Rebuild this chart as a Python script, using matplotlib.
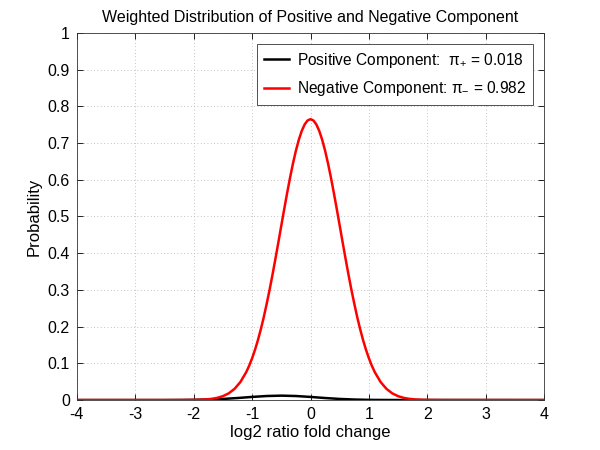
import matplotlib
matplotlib.use("Agg")
import matplotlib.pyplot as plt

plt.rcParams['font.family'] = ['Liberation Sans', 'DejaVu Sans']
plt.rcParams['mathtext.fontset'] = 'custom'
plt.rcParams['mathtext.rm'] = 'Liberation Sans'
plt.rcParams['mathtext.it'] = 'Liberation Sans'
plt.rcParams['axes.unicode_minus'] = False

# Negative component (red)
neg_x = [-4.0, -2.5, -2.2, -2.0, -1.9, -1.8, -1.7, -1.6, -1.5, -1.4, -1.3, -1.2,
         -1.1, -1.05, -1.0, -0.95, -0.9, -0.85, -0.8, -0.75, -0.7, -0.65, -0.6, -0.55,
         -0.5, -0.45, -0.4, -0.35, -0.3, -0.25, -0.2, -0.15, -0.1, -0.05, 0.0,
         0.05, 0.1, 0.15, 0.2, 0.25, 0.3, 0.35, 0.4, 0.45, 0.5,
         0.55, 0.6, 0.65, 0.7, 0.75, 0.8, 0.85, 0.9, 0.95, 1.0, 1.05, 1.1,
         1.2, 1.3, 1.4, 1.5, 1.6, 1.7, 1.8, 1.9, 2.0, 2.2, 2.5, 4.0]
neg_y = [0.0, 0.0, 0.0001, 0.0004, 0.0008, 0.0016, 0.0031, 0.0058, 0.0105, 0.0182, 0.0305, 0.0491,
         0.0761, 0.0934, 0.1136, 0.1368, 0.1632, 0.1929, 0.2257, 0.262, 0.3005, 0.3417, 0.3850, 0.4296,
         0.475, 0.5199, 0.5638, 0.6056, 0.6443, 0.679, 0.7088, 0.7329, 0.7506, 0.7614, 0.765,
         0.7614, 0.7506, 0.7329, 0.7088, 0.679, 0.6443, 0.6056, 0.5638, 0.5199, 0.475,
         0.4296, 0.3850, 0.3417, 0.3005, 0.262, 0.2257, 0.1929, 0.1632, 0.1368, 0.1136, 0.0934, 0.0761,
         0.0491, 0.0305, 0.0182, 0.0105, 0.0058, 0.0031, 0.0016, 0.0008, 0.0004, 0.0001, 0.0, 0.0]

# Positive component (black)
pos_x = [-4.0, -2.5, -2.25, -2.0, -1.75, -1.5, -1.25, -1.0, -0.75, -0.5, -0.25,
         0.0, 0.25, 0.5, 0.75, 1.0, 1.25, 1.5, 4.0]
pos_y = [0.0, 0.0, 0.0002, 0.0005, 0.0014, 0.0030, 0.0055, 0.0085, 0.0110, 0.0120, 0.0110,
         0.0085, 0.0055, 0.0030, 0.0014, 0.0005, 0.0002, 0.0001, 0.0]

pi_pos = 0.018
pi_neg = 0.982

x_ticks = [-4, -3, -2, -1, 0, 1, 2, 3, 4]
y_ticks = [0, 0.1, 0.2, 0.3, 0.4, 0.5, 0.6, 0.7, 0.8, 0.9, 1]
y_tick_labels = ['0', '0.1', '0.2', '0.3', '0.4', '0.5', '0.6', '0.7', '0.8', '0.9', '1']

fig = plt.figure(figsize=(6, 4.5), dpi=100)
ax = fig.add_axes([0.128, 0.111, 0.779, 0.816])

ax.plot(pos_x, pos_y, color='black', lw=1.8, solid_joinstyle='round',
        label=r'Positive Component:  $\pi_{+}$ = %.3f' % pi_pos)
ax.plot(neg_x, neg_y, color='#ff0000', lw=1.8, solid_joinstyle='round',
        label=r'Negative Component: $\pi_{-}$ = %.3f' % pi_neg)

ax.set_xlim(-4, 4)
ax.set_ylim(0, 1)
ax.set_xticks(x_ticks)
ax.set_yticks(y_ticks)
ax.set_yticklabels(y_tick_labels)
ax.tick_params(direction='in', top=True, right=True, labelsize=11.5, length=4, width=0.6, pad=5)
ax.grid(True, linestyle=(0, (1, 3)), color='#b0b0b0', linewidth=0.6)
for s in ax.spines.values():
    s.set_linewidth(0.6)
    s.set_color('#333333')

ax.set_title('Weighted Distribution of Positive and Negative Component', fontsize=11.5, pad=8)
ax.set_xlabel('log2 ratio fold change', fontsize=12, labelpad=2)
ax.set_ylabel('Probability', fontsize=12, labelpad=4)

leg = ax.legend(loc='upper right', fontsize=11.2, fancybox=False, framealpha=1,
                edgecolor='#333333', handlelength=1.6, handletextpad=0.5,
                borderpad=0.45, labelspacing=0.6, borderaxespad=0.7)
leg.get_frame().set_linewidth(0.6)

fig.savefig('out.png', dpi=100)
